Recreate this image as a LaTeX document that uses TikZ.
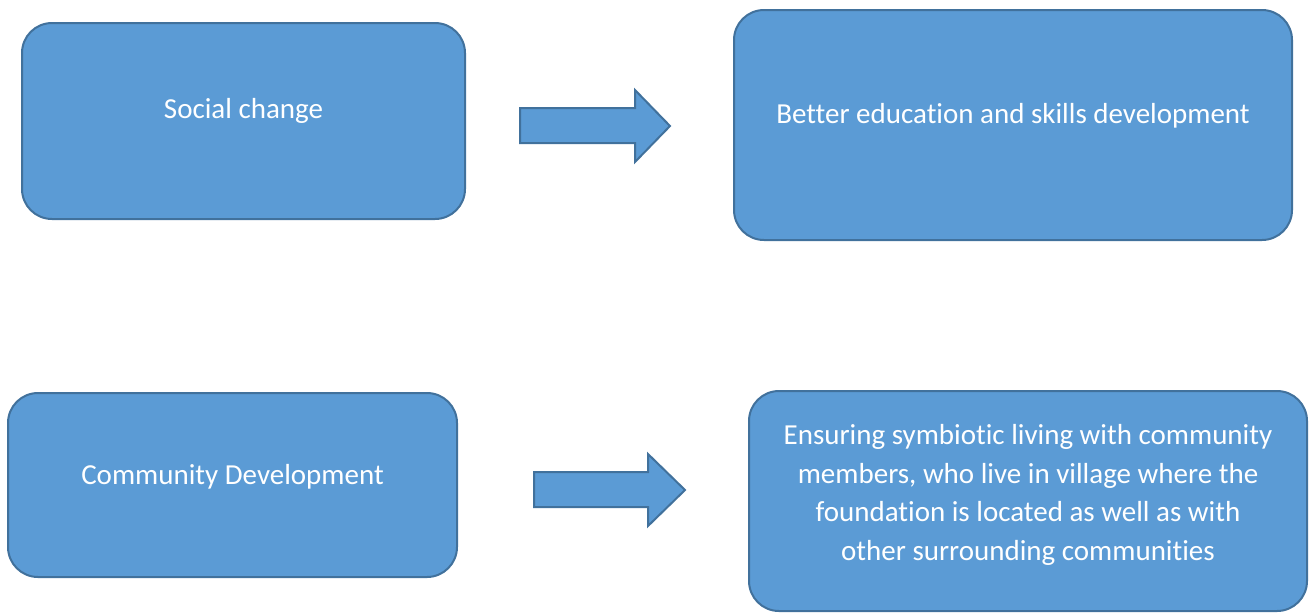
\documentclass[tikz,border=0pt]{standalone}
\usepackage{fontspec}
\setmainfont{Carlito}[RawFeature={-liga}]
\definecolor{boxfill}{HTML}{5B9BD5}
\definecolor{boxline}{HTML}{41719C}
\begin{document}
\begin{tikzpicture}[x=1pt,y=-1pt,
  blockbox/.style={draw=boxline,fill=boxfill,line width=2pt,rounded corners=30pt},
  blockarrow/.style={draw=boxline,fill=boxfill,line width=2pt,line join=miter},
  caption/.style={text=white,font=\fontsize{29}{38.7}\selectfont,align=center,inner sep=0pt}]
\useasboundingbox (0,0) rectangle (1314,614);

% rounded boxes
\draw[blockbox] (22,23) rectangle (465,219);
\draw[blockbox] (734,10) rectangle (1292,240);
\draw[blockbox] (8,393) rectangle (457,577);
\draw[blockbox] (749,391) rectangle (1307,611);

% box labels
\node[caption,anchor=base] (social) at (243.5,118) {Social change};
\node[caption,anchor=base] (educ) at (1013,123) {Better education and skills development};
\node[caption,anchor=base] (comm) at (232.5,484) {Community Development};
\node[caption,anchor=north] (symb) at (1028,424)
  {Ensuring symbiotic living with community\\members, who live in village where the\\foundation is located as well as with\\other surrounding communities};

% block arrows
\draw[blockarrow] (520,108) -- (635,108) -- (635,90) -- (670,126) -- (635,162) -- (635,143) -- (520,143) -- cycle;
\draw[blockarrow] (534,472) -- (648,472) -- (648,454) -- (685,490) -- (648,526) -- (648,507) -- (534,507) -- cycle;
\end{tikzpicture}
\end{document}
